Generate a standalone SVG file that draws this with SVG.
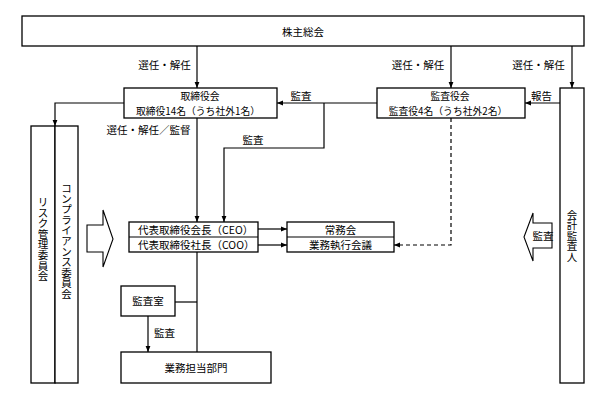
<svg xmlns="http://www.w3.org/2000/svg" width="595" height="395" viewBox="0 0 595 395">
<style>
.box{fill:#fff;stroke:#000;stroke-width:1.3}
.ln{fill:none;stroke:#000;stroke-width:1.2}
.dash{stroke-dasharray:4 3}
.blk{fill:#fff;stroke:#000;stroke-width:1.1;stroke-linejoin:miter}
text{font-family:"Noto Sans CJK JP","Noto Sans",sans-serif;font-size:10.5px;fill:#000}
.c{text-anchor:middle}
.s{font-size:9.8px}
</style>
<defs>
<marker id="ah" markerUnits="userSpaceOnUse" markerWidth="6" markerHeight="6" viewBox="0 0 6 6" refX="6" refY="3" orient="auto">
<path d="M0,0.6 L6,3 L0,5.4 Z" fill="#000"/>
</marker>
</defs>
<rect width="595" height="395" fill="#fff"/>
<g id="connectors">
<path class="ln" d="M197,46 V88" marker-end="url(#ah)"/>
<path class="ln" d="M451,46 V88" marker-end="url(#ah)"/>
<path class="ln" d="M572,46 V88" marker-end="url(#ah)"/>
<path class="ln" d="M124,103 H55 V126" marker-end="url(#ah)"/>
<path class="ln" d="M377,103 H277" marker-end="url(#ah)"/>
<path class="ln" d="M324,103 V148 H224 V222" marker-end="url(#ah)"/>
<path class="ln" d="M197,118 V222" marker-end="url(#ah)"/>
<path class="ln" d="M560,103 H525" marker-end="url(#ah)"/>
<path class="ln dash" d="M451,118 V245 H394" marker-end="url(#ah)"/>
<path class="ln" d="M258,229 H287" marker-end="url(#ah)"/>
<path class="ln" d="M258,245 H287" marker-end="url(#ah)"/>
<path class="ln" d="M197,252 V352"/>
<path class="ln" d="M175,302 H197"/>
<path class="ln" d="M148,316 V352" marker-end="url(#ah)"/>
<text class="c" x="164.5" y="69">選任・解任</text>
<text class="c" x="418" y="69">選任・解任</text>
<text class="c" x="538.5" y="69">選任・解任</text>
<text class="c" x="148.5" y="134">選任・解任／監督</text>
<text class="c" x="301" y="100">監査</text>
<text class="c" x="253" y="144">監査</text>
<text class="c" x="541.5" y="100">報告</text>
<text class="c" x="164.5" y="337">監査</text>
</g>
<g id="shareholders">
<rect class="box" x="22" y="16" width="562" height="30"/>
<text class="c" x="303" y="35.5">株主総会</text>
</g>
<g id="board">
<rect class="box" x="124" y="88" width="153" height="30"/>
<text class="c s" x="200" y="100.3">取締役会</text>
<text class="c s" x="198" y="114.6">取締役14名（うち社外1名）</text>
</g>
<g id="auditors">
<rect class="box" x="377" y="88" width="148" height="30"/>
<text class="c s" x="450" y="100.3">監査役会</text>
<text class="c s" x="448" y="114.6">監査役4名（うち社外2名）</text>
</g>
<g id="accounting-auditor">
<rect class="box" x="560" y="88" width="24" height="295"/>
<text class="c"><tspan x="572" y="219">会</tspan><tspan x="572" y="229.4">計</tspan><tspan x="572" y="239.8">監</tspan><tspan x="572" y="250.2">査</tspan><tspan x="572" y="260.6">人</tspan></text>
</g>
<g id="risk-committee">
<rect class="box" x="31" y="126" width="24" height="257"/>
<text class="c"><tspan x="43" y="206">リ</tspan><tspan x="43" y="216.6">ス</tspan><tspan x="43" y="227.2">ク</tspan><tspan x="43" y="237.8">管</tspan><tspan x="43" y="248.4">理</tspan><tspan x="43" y="259">委</tspan><tspan x="43" y="269.6">員</tspan><tspan x="43" y="280.2">会</tspan></text>
</g>
<g id="compliance-committee">
<rect class="box" x="55" y="126" width="23" height="257"/>
<text class="c"><tspan x="66.5" y="192">コ</tspan><tspan x="66.5" y="202.6">ン</tspan><tspan x="66.5" y="213.2">プ</tspan><tspan x="66.5" y="223.8">ラ</tspan><tspan x="66.5" y="234.4">イ</tspan><tspan x="66.5" y="245">ア</tspan><tspan x="66.5" y="255.6">ン</tspan><tspan x="66.5" y="266.2">ス</tspan><tspan x="66.5" y="276.8">委</tspan><tspan x="66.5" y="287.4">員</tspan><tspan x="66.5" y="298">会</tspan></text>
</g>
<g id="ceo-coo">
<rect class="box" x="129" y="222" width="129" height="30"/>
<line class="ln" x1="129" y1="237" x2="258" y2="237"/>
<text x="138" y="233.5">代表取締役会長（CEO）</text>
<text x="138" y="248.5">代表取締役社長（COO）</text>
</g>
<g id="executive-committee">
<rect class="box" x="287" y="222" width="107" height="30"/>
<line class="ln" x1="287" y1="237" x2="394" y2="237"/>
<text class="c" x="340.5" y="233.5">常務会</text>
<text class="c" x="340.5" y="248.5">業務執行会議</text>
</g>
<g id="internal-audit">
<rect class="box" x="121" y="286" width="54" height="30"/>
<text class="c" x="148" y="305">監査室</text>
</g>
<g id="business-units">
<rect class="box" x="121" y="352" width="150" height="31"/>
<text class="c" x="196" y="372">業務担当部門</text>
</g>
<g id="arrow-left-block">
<polygon class="blk" points="87,225 103,225 103,210 113,239 103,267 103,252 87,252"/>
</g>
<g id="arrow-right-block">
<polygon class="blk" points="552,223 533,223 533,213 524,237 533,261 533,248 552,248"/>
<text class="c" x="543" y="239.5">監査</text>
</g>
</svg>
